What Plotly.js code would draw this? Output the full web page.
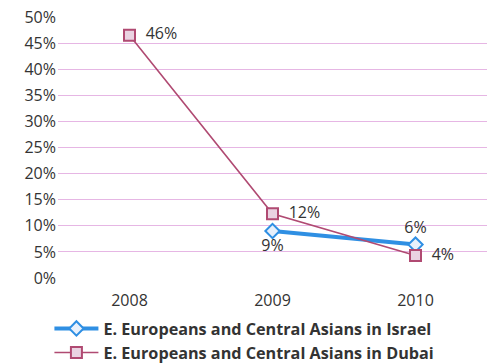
<!DOCTYPE html>
<html><head><meta charset="utf-8">
<script src="https://cdn.plot.ly/plotly-3.0.1.min.js"></script>
<style>html,body{margin:0;padding:0;background:#fff}#c{width:487px;height:364px}</style>
</head><body><div id="c"></div>
<script>
const years = ['2008', '2009', '2010'];
const israelYears = ['2009', '2010'];
const israelValues = [9, 6.4];
const israelLabels = ['9%', '6%'];
const dubaiValues = [46.5, 12.3, 4.3];
const dubaiLabels = ['  46%', '  12%', '  4%'];
const yTickVals = [0,5,10,15,20,25,30,35,40,45,50];
const yTickText = yTickVals.map(v => v + '%');

const font = {family: 'Open Sans, DejaVu Sans, sans-serif', color: '#333', size: 16};

const traces = [
  {
    x: israelYears, y: israelValues, text: israelLabels,
    name: 'E. Europeans and Central Asians in Israel',
    mode: 'lines+markers+text', type: 'scatter',
    textposition: ['bottom center', 'top center'],
    textfont: {family: font.family, size: 16, color: '#333'},
    line: {color: '#2f8fe3', width: 4},
    marker: {symbol: 'diamond', size: 11, color: '#e8f0fb', line: {color: '#2f8fe3', width: 2}},
    cliponaxis: false
  },
  {
    x: years, y: dubaiValues, text: dubaiLabels,
    name: 'E. Europeans and Central Asians in Dubai',
    mode: 'lines+markers+text', type: 'scatter',
    textposition: ['middle right', 'middle right', 'middle right'],
    textfont: {family: font.family, size: 16, color: '#333'},
    line: {color: '#b04a72', width: 1.6},
    marker: {symbol: 'square', size: 11, color: '#ead3e2', line: {color: '#b04a72', width: 2}},
    cliponaxis: false
  }
];

const layout = {
  width: 487, height: 364,
  margin: {l: 58, r: 0, t: 17, b: 86, autoexpand: false},
  paper_bgcolor: '#fff', plot_bgcolor: '#fff',
  font: font,
  showlegend: true,
  xaxis: {
    type: 'category', categoryorder: 'array', categoryarray: years,
    range: [-0.5, 2.5], showgrid: false, zeroline: false, showline: false,
    ticks: '', ticklabelstandoff: 11, tickfont: {size: 16, color: '#333'}
  },
  yaxis: {
    range: [0, 50], tickvals: yTickVals, ticktext: yTickText,
    showgrid: true, gridcolor: '#e6b6e4', gridwidth: 1,
    zeroline: false, showline: false, ticks: '', ticklabelstandoff: 1,
    tickfont: {size: 16, color: '#333'}
  },
  legend: {
    orientation: 'v', x: -0.02, y: -0.128, xanchor: 'left', yanchor: 'top',
    font: {size: 16.2, color: '#333', weight: 'bold', family: font.family},
    tracegroupgap: 0, itemwidth: 44, bgcolor: 'rgba(0,0,0,0)'
  }
};

Plotly.newPlot('c', traces, layout, {displayModeBar: false, staticPlot: true});
</script></body></html>
